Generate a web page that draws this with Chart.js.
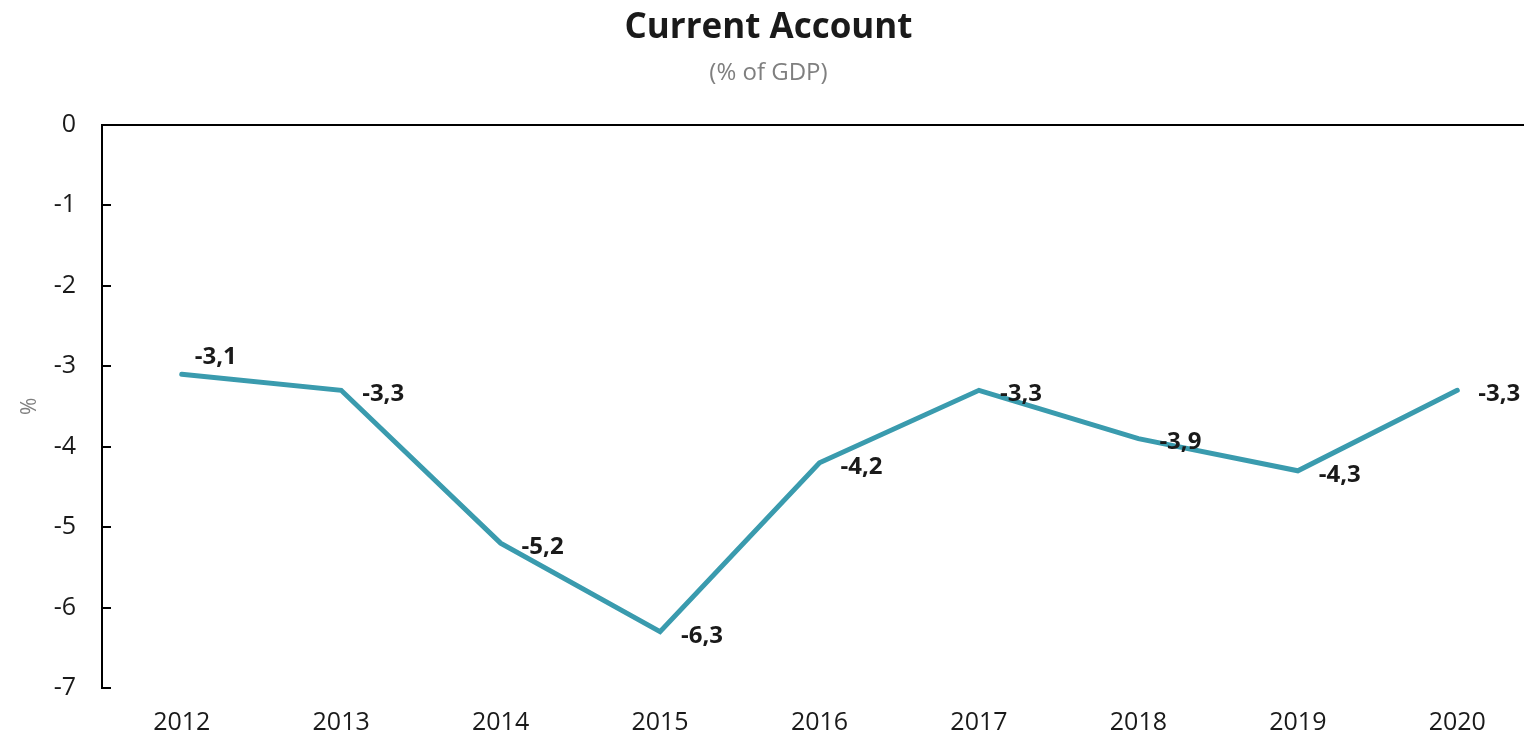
<!DOCTYPE html>
<html>
<head>
<meta charset="utf-8">
<script src="https://cdn.jsdelivr.net/npm/chart.js@4/dist/chart.umd.min.js"></script>
<style>
  html, body { margin: 0; padding: 0; background: #fff; overflow: hidden; }
  #wrap { width: 1540px; height: 741px; }
</style>
</head>
<body>
<div id="wrap"><canvas id="caChart"></canvas></div>
<script>
// data
var years = ['2012', '2013', '2014', '2015', '2016', '2017', '2018', '2019', '2020'];
var currentAccount = [-3.1, -3.3, -5.2, -6.3, -4.2, -3.3, -3.9, -4.3, -3.3];
var yTicks = [0, -1, -2, -3, -4, -5, -6, -7];

var lineColor = '#3a9bae';
var fontFamily = '"Open Sans", "Noto Sans", sans-serif';

// decimal comma like the source
function fmt(v) {
    return v.toFixed(1).replace('.', ',');
}

// short tick marks pointing into the plot + bold value labels
var extras = {
    id: 'extras',
    afterDatasetsDraw: function(chart) {
        var ctx = chart.ctx;
        var area = chart.chartArea;
        var yScale = chart.scales.y;
        ctx.save();
        ctx.strokeStyle = '#000';
        ctx.lineWidth = 2;
        yTicks.forEach(function(t) {
            var py = Math.round(yScale.getPixelForValue(t));
            ctx.beginPath();
            ctx.moveTo(area.left, py);
            ctx.lineTo(area.left + 9, py);
            ctx.stroke();
        });

        var meta = chart.getDatasetMeta(0);
        ctx.font = 'bold 24px ' + fontFamily;
        ctx.fillStyle = '#1a1a1a';
        ctx.textBaseline = 'middle';
        ctx.textAlign = 'left';
        meta.data.forEach(function(pt, i) {
            var txt = fmt(currentAccount[i]);
            if (i === 0) {
                ctx.fillText(txt, pt.x + 13, pt.y - 17);
            } else {
                ctx.fillText(txt, pt.x + 21, pt.y + 4);
            }
        });
        ctx.restore();
    }
};

var ctx = document.getElementById('caChart').getContext('2d');
new Chart(ctx, {
    type: 'line',
    data: {
        labels: years,
        datasets: [{
            label: 'Current Account',
            data: currentAccount,
            borderColor: lineColor,
            borderWidth: 5,
            pointRadius: 0,
            tension: 0,
            borderCapStyle: 'round',
            borderJoinStyle: 'miter'
        }]
    },
    options: {
        responsive: true,
        maintainAspectRatio: false,
        animation: false,
        layout: {
            padding: { left: 0, right: 3, top: 0, bottom: 0 }
        },
        scales: {
            x: {
                offset: true,
                grid: { display: false },
                border: { display: false },
                ticks: {
                    color: '#1a1a1a',
                    font: { family: fontFamily, size: 25 },
                    padding: 12,
                    maxRotation: 0
                },
                afterFit: function(scale) { scale.height = 53; }
            },
            y: {
                min: -7,
                max: 0,
                afterBuildTicks: function(scale) {
                    scale.ticks = yTicks.map(function(v) { return { value: v }; });
                },
                grid: {
                    drawTicks: false,
                    lineWidth: 2,
                    color: function(c) {
                        return c.tick && c.tick.value === 0 ? '#000' : 'rgba(0,0,0,0)';
                    }
                },
                border: { display: true, color: '#000', width: 2 },
                ticks: {
                    color: '#1a1a1a',
                    font: { family: fontFamily, size: 25 },
                    padding: 26
                },
                title: {
                    display: true,
                    text: '%',
                    color: '#7f7f7f',
                    font: { family: fontFamily, size: 21 },
                    padding: { top: 17, bottom: 0 }
                },
                afterFit: function(scale) { scale.width = 102; }
            }
        },
        plugins: {
            legend: { display: false },
            tooltip: { enabled: false },
            title: {
                display: true,
                text: 'Current Account',
                color: '#1a1a1a',
                font: { family: fontFamily, size: 35, weight: 'bold' },
                padding: { top: 7, bottom: 10 }
            },
            subtitle: {
                display: true,
                text: '(% of GDP)',
                color: '#7f7f7f',
                font: { family: fontFamily, size: 24 },
                padding: { top: 0, bottom: 37 }
            }
        }
    },
    plugins: [extras]
});
</script>
</body>
</html>
